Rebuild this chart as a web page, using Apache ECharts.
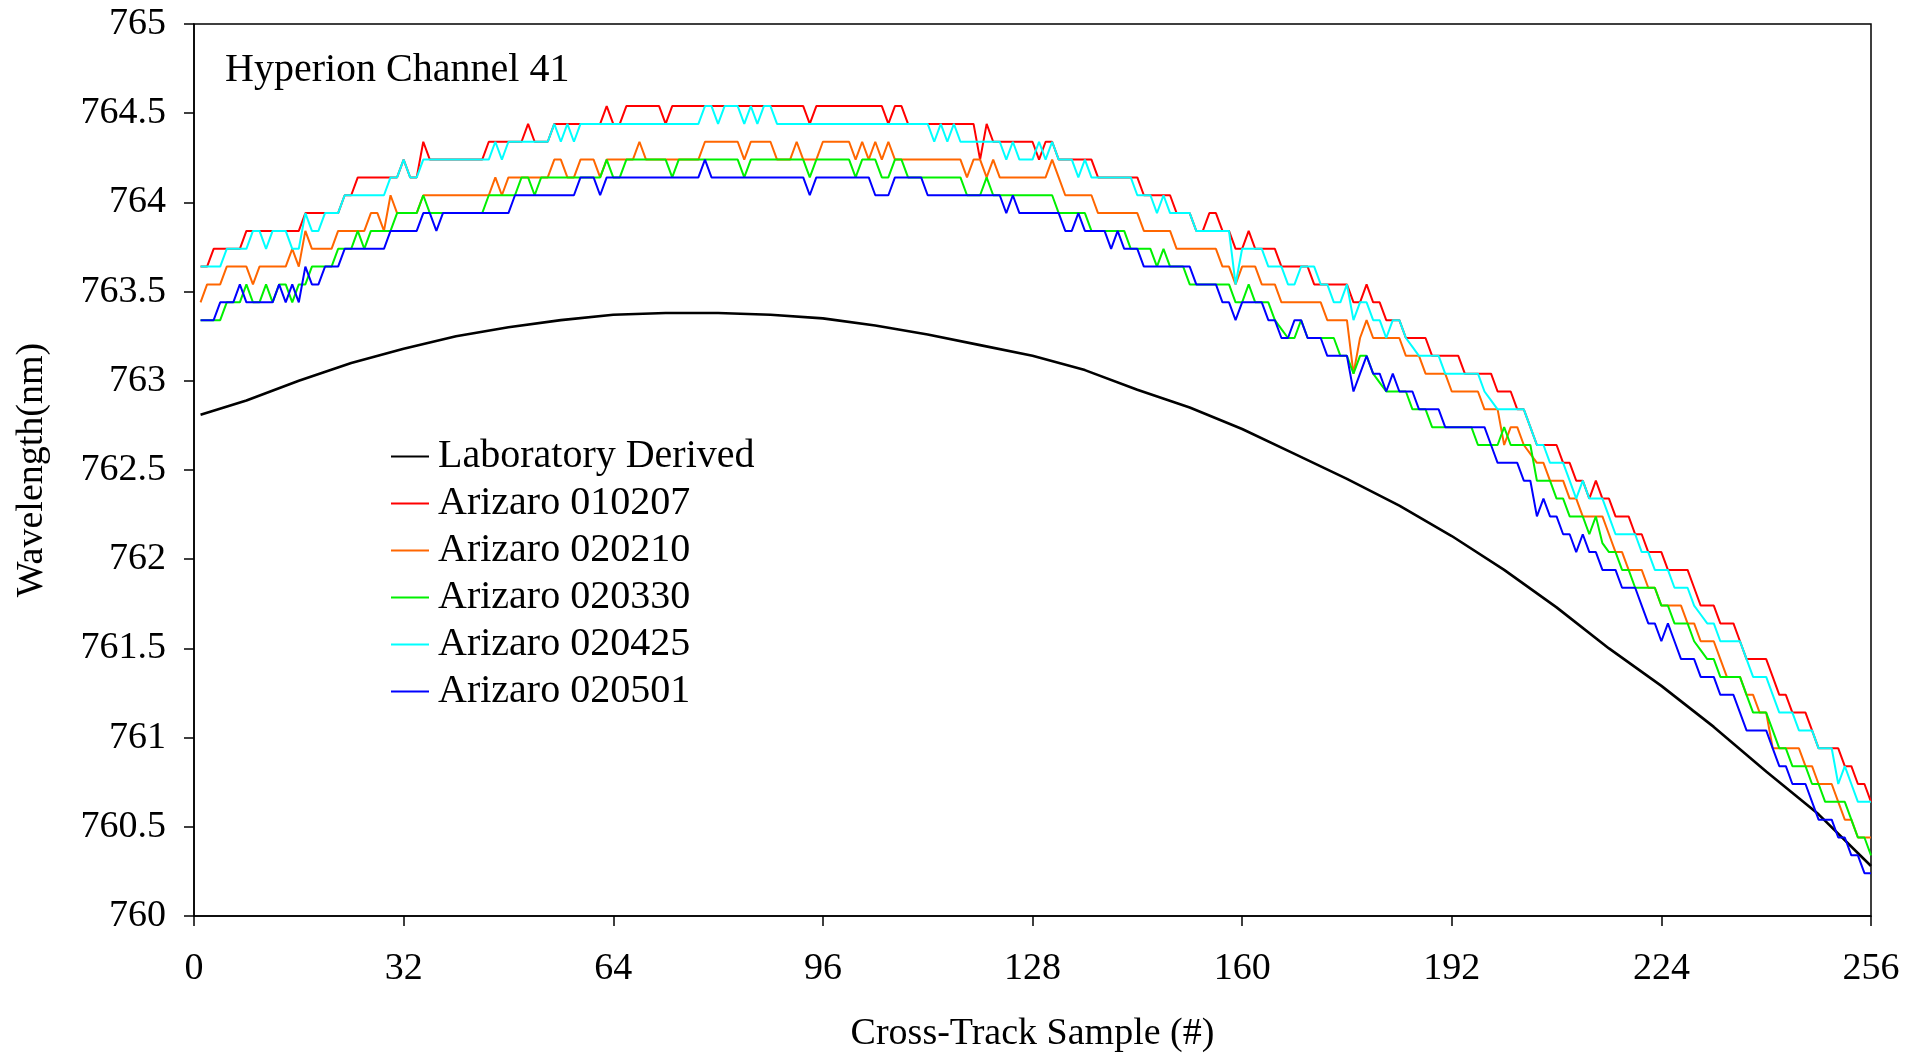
<!DOCTYPE html>
<html>
<head>
<meta charset="utf-8">
<script src="https://cdn.jsdelivr.net/npm/echarts@6/dist/echarts.min.js"></script>
<style>
html,body{margin:0;padding:0;background:#fff;}
#chart{width:1919px;height:1053px;}
</style>
</head>
<body>
<div id="chart"></div>
<script>
// ---- data ----
const seriesNames = ['Laboratory Derived','Arizaro 010207','Arizaro 020210','Arizaro 020330','Arizaro 020425','Arizaro 020501'];
const xTicks = [0,32,64,96,128,160,192,224,256];

const labX = [1,8,16,24,32,40,48,56,64,72,80,88,96,104,112,120,128,136,144,152,160,168,176,184,192,200,208,216,224,232,240,248,256];
const labY = [762.81,762.89,763.00,763.10,763.18,763.25,763.30,763.34,763.37,763.38,763.38,763.37,763.35,763.31,763.26,763.20,763.14,763.06,762.95,762.85,762.73,762.59,762.45,762.30,762.13,761.94,761.73,761.50,761.29,761.06,760.81,760.57,760.28];

const a010207 = [
763.64,763.64,763.74,763.74,763.74,763.74,763.74,763.84,763.84,763.84,763.84,763.84,763.84,763.84,763.84,763.84,
763.94,763.94,763.94,763.94,763.94,763.94,764.04,764.04,764.14,764.14,764.14,764.14,764.14,764.14,764.14,764.24,
764.14,764.14,764.34,764.24,764.24,764.24,764.24,764.24,764.24,764.24,764.24,764.24,764.34,764.34,764.34,764.34,
764.34,764.34,764.44,764.34,764.34,764.34,764.44,764.44,764.44,764.44,764.44,764.44,764.44,764.44,764.54,764.44,
764.44,764.54,764.54,764.54,764.54,764.54,764.54,764.44,764.54,764.54,764.54,764.54,764.54,764.54,764.54,764.54,
764.54,764.54,764.54,764.54,764.54,764.54,764.54,764.54,764.54,764.54,764.54,764.54,764.54,764.44,764.54,764.54,
764.54,764.54,764.54,764.54,764.54,764.54,764.54,764.54,764.54,764.44,764.54,764.54,764.44,764.44,764.44,764.44,
764.44,764.44,764.44,764.44,764.44,764.44,764.44,764.24,764.44,764.34,764.34,764.34,764.34,764.34,764.34,764.34,
764.24,764.34,764.34,764.24,764.24,764.24,764.24,764.24,764.24,764.14,764.14,764.14,764.14,764.14,764.14,764.14,
764.04,764.04,764.04,764.04,764.04,763.94,763.94,763.94,763.84,763.84,763.94,763.94,763.84,763.84,763.74,763.74,
763.84,763.74,763.74,763.74,763.74,763.64,763.64,763.64,763.64,763.64,763.54,763.54,763.54,763.54,763.54,763.54,
763.44,763.44,763.54,763.44,763.44,763.34,763.34,763.34,763.24,763.24,763.24,763.24,763.14,763.14,763.14,763.14,
763.14,763.04,763.04,763.04,763.04,763.04,762.94,762.94,762.94,762.84,762.84,762.74,762.64,762.64,762.64,762.64,
762.54,762.54,762.44,762.44,762.34,762.44,762.34,762.34,762.24,762.24,762.24,762.14,762.14,762.04,762.04,762.04,
761.94,761.94,761.94,761.94,761.84,761.74,761.74,761.74,761.64,761.64,761.64,761.54,761.44,761.44,761.44,761.44,
761.34,761.24,761.24,761.14,761.14,761.14,761.04,760.94,760.94,760.94,760.94,760.84,760.84,760.74,760.74,760.64
];

const a020210 = [
763.44,763.54,763.54,763.54,763.64,763.64,763.64,763.64,763.54,763.64,763.64,763.64,763.64,763.64,763.74,763.64,
763.84,763.74,763.74,763.74,763.74,763.84,763.84,763.84,763.84,763.84,763.94,763.94,763.84,764.04,763.94,763.94,
763.94,763.94,764.04,764.04,764.04,764.04,764.04,764.04,764.04,764.04,764.04,764.04,764.04,764.14,764.04,764.14,
764.14,764.14,764.14,764.14,764.14,764.14,764.24,764.24,764.14,764.14,764.24,764.24,764.24,764.14,764.24,764.24,
764.24,764.24,764.24,764.34,764.24,764.24,764.24,764.24,764.24,764.24,764.24,764.24,764.24,764.34,764.34,764.34,
764.34,764.34,764.34,764.24,764.34,764.34,764.34,764.34,764.24,764.24,764.24,764.34,764.24,764.24,764.24,764.34,
764.34,764.34,764.34,764.34,764.24,764.34,764.24,764.34,764.24,764.34,764.24,764.24,764.24,764.24,764.24,764.24,
764.24,764.24,764.24,764.24,764.24,764.14,764.24,764.24,764.14,764.24,764.14,764.14,764.14,764.14,764.14,764.14,
764.14,764.14,764.24,764.14,764.04,764.04,764.04,764.04,764.04,763.94,763.94,763.94,763.94,763.94,763.94,763.94,
763.84,763.84,763.84,763.84,763.84,763.74,763.74,763.74,763.74,763.74,763.74,763.74,763.64,763.64,763.54,763.64,
763.64,763.64,763.54,763.54,763.54,763.44,763.44,763.44,763.44,763.44,763.44,763.44,763.34,763.34,763.34,763.34,
763.04,763.24,763.34,763.24,763.24,763.24,763.24,763.24,763.14,763.14,763.14,763.04,763.04,763.04,763.04,762.94,
762.94,762.94,762.94,762.94,762.84,762.84,762.84,762.64,762.74,762.74,762.64,762.59,762.54,762.54,762.44,762.44,
762.44,762.34,762.34,762.24,762.24,762.24,762.24,762.14,762.04,762.04,761.94,761.94,761.94,761.84,761.84,761.74,
761.74,761.74,761.74,761.64,761.64,761.54,761.54,761.54,761.44,761.34,761.34,761.34,761.24,761.24,761.14,761.14,
760.94,760.94,760.94,760.94,760.94,760.84,760.84,760.74,760.74,760.74,760.64,760.54,760.54,760.44,760.44,760.44
];

const a020330 = [
763.34,763.34,763.34,763.34,763.44,763.44,763.44,763.54,763.44,763.44,763.54,763.44,763.54,763.54,763.44,763.54,
763.54,763.64,763.64,763.64,763.64,763.74,763.74,763.74,763.84,763.74,763.84,763.84,763.84,763.84,763.94,763.94,
763.94,763.94,764.04,763.94,763.94,763.94,763.94,763.94,763.94,763.94,763.94,763.94,764.04,764.04,764.04,764.04,
764.04,764.14,764.14,764.04,764.14,764.14,764.14,764.14,764.14,764.14,764.14,764.14,764.14,764.14,764.24,764.14,
764.14,764.24,764.24,764.24,764.24,764.24,764.24,764.24,764.14,764.24,764.24,764.24,764.24,764.24,764.24,764.24,
764.24,764.24,764.24,764.14,764.24,764.24,764.24,764.24,764.24,764.24,764.24,764.24,764.24,764.14,764.24,764.24,
764.24,764.24,764.24,764.24,764.14,764.24,764.24,764.24,764.14,764.14,764.24,764.24,764.14,764.14,764.14,764.14,
764.14,764.14,764.14,764.14,764.14,764.04,764.04,764.04,764.14,764.04,764.04,764.04,764.04,764.04,764.04,764.04,
764.04,764.04,764.04,763.94,763.94,763.94,763.94,763.94,763.84,763.84,763.84,763.84,763.84,763.84,763.74,763.74,
763.74,763.74,763.64,763.74,763.64,763.64,763.64,763.54,763.54,763.54,763.54,763.54,763.54,763.54,763.44,763.44,
763.54,763.44,763.44,763.44,763.34,763.29,763.24,763.24,763.34,763.24,763.24,763.24,763.24,763.24,763.14,763.14,
763.04,763.14,763.14,763.04,762.99,762.94,762.94,762.94,762.94,762.84,762.84,762.84,762.74,762.74,762.74,762.74,
762.74,762.74,762.74,762.64,762.64,762.64,762.64,762.74,762.64,762.64,762.64,762.64,762.44,762.44,762.44,762.34,
762.34,762.24,762.24,762.24,762.14,762.24,762.09,762.04,762.04,761.94,761.94,761.84,761.84,761.84,761.84,761.74,
761.74,761.64,761.64,761.64,761.54,761.49,761.44,761.44,761.34,761.34,761.34,761.34,761.24,761.14,761.14,761.14,
761.04,760.94,760.94,760.84,760.84,760.84,760.74,760.74,760.64,760.64,760.64,760.64,760.54,760.44,760.44,760.34
];

const a020425 = [
763.64,763.64,763.64,763.64,763.74,763.74,763.74,763.74,763.84,763.84,763.74,763.84,763.84,763.84,763.74,763.74,
763.94,763.84,763.84,763.94,763.94,763.94,764.04,764.04,764.04,764.04,764.04,764.04,764.04,764.14,764.14,764.24,
764.14,764.14,764.24,764.24,764.24,764.24,764.24,764.24,764.24,764.24,764.24,764.24,764.24,764.34,764.24,764.34,
764.34,764.34,764.34,764.34,764.34,764.34,764.44,764.34,764.44,764.34,764.44,764.44,764.44,764.44,764.44,764.44,
764.44,764.44,764.44,764.44,764.44,764.44,764.44,764.44,764.44,764.44,764.44,764.44,764.44,764.54,764.54,764.44,
764.54,764.54,764.54,764.44,764.54,764.44,764.54,764.54,764.44,764.44,764.44,764.44,764.44,764.44,764.44,764.44,
764.44,764.44,764.44,764.44,764.44,764.44,764.44,764.44,764.44,764.44,764.44,764.44,764.44,764.44,764.44,764.44,
764.34,764.44,764.34,764.44,764.34,764.34,764.34,764.34,764.34,764.34,764.34,764.24,764.34,764.24,764.24,764.24,
764.34,764.24,764.34,764.24,764.24,764.24,764.14,764.24,764.14,764.14,764.14,764.14,764.14,764.14,764.14,764.04,
764.04,764.04,763.94,764.04,763.94,763.94,763.94,763.94,763.84,763.84,763.84,763.84,763.84,763.84,763.54,763.74,
763.74,763.74,763.74,763.64,763.64,763.64,763.54,763.54,763.64,763.64,763.64,763.54,763.54,763.44,763.44,763.54,
763.34,763.44,763.44,763.34,763.34,763.24,763.34,763.34,763.24,763.19,763.14,763.14,763.14,763.14,763.04,763.04,
763.04,763.04,763.04,763.04,762.94,762.89,762.84,762.84,762.84,762.84,762.84,762.74,762.64,762.64,762.54,762.54,
762.54,762.44,762.34,762.44,762.34,762.34,762.34,762.24,762.14,762.14,762.14,762.14,762.04,762.04,761.94,761.94,
761.94,761.84,761.84,761.84,761.74,761.69,761.64,761.64,761.54,761.54,761.54,761.54,761.44,761.34,761.34,761.34,
761.24,761.14,761.14,761.14,761.04,761.04,761.04,760.94,760.94,760.94,760.74,760.84,760.74,760.64,760.64,760.64
];

const a020501 = [
763.34,763.34,763.34,763.44,763.44,763.44,763.54,763.44,763.44,763.44,763.44,763.44,763.54,763.44,763.54,763.44,
763.64,763.54,763.54,763.64,763.64,763.64,763.74,763.74,763.74,763.74,763.74,763.74,763.74,763.84,763.84,763.84,
763.84,763.84,763.94,763.94,763.84,763.94,763.94,763.94,763.94,763.94,763.94,763.94,763.94,763.94,763.94,763.94,
764.04,764.04,764.04,764.04,764.04,764.04,764.04,764.04,764.04,764.04,764.14,764.14,764.14,764.04,764.14,764.14,
764.14,764.14,764.14,764.14,764.14,764.14,764.14,764.14,764.14,764.14,764.14,764.14,764.14,764.24,764.14,764.14,
764.14,764.14,764.14,764.14,764.14,764.14,764.14,764.14,764.14,764.14,764.14,764.14,764.14,764.04,764.14,764.14,
764.14,764.14,764.14,764.14,764.14,764.14,764.14,764.04,764.04,764.04,764.14,764.14,764.14,764.14,764.14,764.04,
764.04,764.04,764.04,764.04,764.04,764.04,764.04,764.04,764.04,764.04,764.04,763.94,764.04,763.94,763.94,763.94,
763.94,763.94,763.94,763.94,763.84,763.84,763.94,763.84,763.84,763.84,763.84,763.74,763.84,763.74,763.74,763.74,
763.64,763.64,763.64,763.64,763.64,763.64,763.64,763.64,763.54,763.54,763.54,763.54,763.44,763.44,763.34,763.44,
763.44,763.44,763.44,763.34,763.34,763.24,763.24,763.34,763.34,763.24,763.24,763.24,763.14,763.14,763.14,763.14,
762.94,763.04,763.14,763.04,763.04,762.94,763.04,762.94,762.94,762.94,762.84,762.84,762.84,762.84,762.74,762.74,
762.74,762.74,762.74,762.74,762.74,762.64,762.54,762.54,762.54,762.54,762.44,762.44,762.24,762.34,762.24,762.24,
762.14,762.14,762.04,762.14,762.04,762.04,761.94,761.94,761.94,761.84,761.84,761.84,761.74,761.64,761.64,761.54,
761.64,761.54,761.44,761.44,761.44,761.34,761.34,761.34,761.24,761.24,761.24,761.14,761.04,761.04,761.04,761.04,
760.94,760.84,760.84,760.74,760.74,760.74,760.64,760.54,760.54,760.54,760.44,760.44,760.34,760.34,760.24,760.24
];

const seriesColors = ['#000000','#FF0000','#FF6600','#00F000','#00FFFF','#0000FF'];

// ---- build ----
function pairs(values){ return values.map((v,i)=>[i+1, v]); }
const labData = labX.map((x,i)=>[x, labY[i]]);
const arizaro = [a010207, a020210, a020330, a020425, a020501];

const FONT = 'Liberation Serif, Times New Roman, serif';
const chart = echarts.init(document.getElementById('chart'), null, {renderer:'canvas'});

const series = [{
  name: seriesNames[0], type:'line', data: labData, showSymbol:false, symbol:'none',
  lineStyle:{color:seriesColors[0], width:2.6}, itemStyle:{color:seriesColors[0]}, z:2
}];
arizaro.forEach((arr,k)=>{
  series.push({
    name: seriesNames[k+1], type:'line', data: pairs(arr), showSymbol:false, symbol:'none',
    lineStyle:{color:seriesColors[k+1], width:2}, itemStyle:{color:seriesColors[k+1]}, z:3+k
  });
});

chart.setOption({
  animation:false,
  backgroundColor:'#ffffff',
  textStyle:{fontFamily:FONT},
  title:{
    text:'Hyperion Channel 41', left:220, top:45,
    textStyle:{fontFamily:FONT, fontSize:40, fontWeight:'normal', color:'#000'}
  },
  legend:{
    orient:'vertical', left:386, top:428,
    data: seriesNames, icon:'rect', itemWidth:38, itemHeight:2, itemGap:0,
    textStyle:{fontFamily:FONT, fontSize:40, color:'#000', lineHeight:47, padding:[0,0,0,4]}
  },
  grid:{left:194, top:24, width:1677, height:892, show:true, borderColor:'#000', borderWidth:1.5,
        containLabel:false, outerBoundsMode:'none'},
  xAxis:{
    type:'value', min:xTicks[0], max:xTicks[xTicks.length-1], interval:32,
    name:'Cross-Track Sample (#)', nameLocation:'middle', nameGap:99,
    nameTextStyle:{fontFamily:FONT, fontSize:38, color:'#000'},
    axisLine:{show:true, lineStyle:{color:'#000', width:1.5}},
    axisTick:{show:true, inside:false, length:10, lineStyle:{color:'#000', width:1.5}},
    axisLabel:{fontFamily:FONT, fontSize:38, color:'#000', margin:34, showMinLabel:true, showMaxLabel:true, hideOverlap:false},
    splitLine:{show:false}
  },
  yAxis:{
    type:'value', min:760, max:765, interval:0.5,
    name:'Wavelength(nm)', nameLocation:'middle', nameGap:143, nameRotate:90,
    nameTextStyle:{fontFamily:FONT, fontSize:38, color:'#000'},
    axisLine:{show:true, lineStyle:{color:'#000', width:1.5}},
    axisTick:{show:true, inside:false, length:10, lineStyle:{color:'#000', width:1.5}},
    axisLabel:{fontFamily:FONT, fontSize:38, color:'#000', margin:28, showMinLabel:true, showMaxLabel:true, hideOverlap:false},
    splitLine:{show:false}
  },
  series: series
});
</script>
</body>
</html>
